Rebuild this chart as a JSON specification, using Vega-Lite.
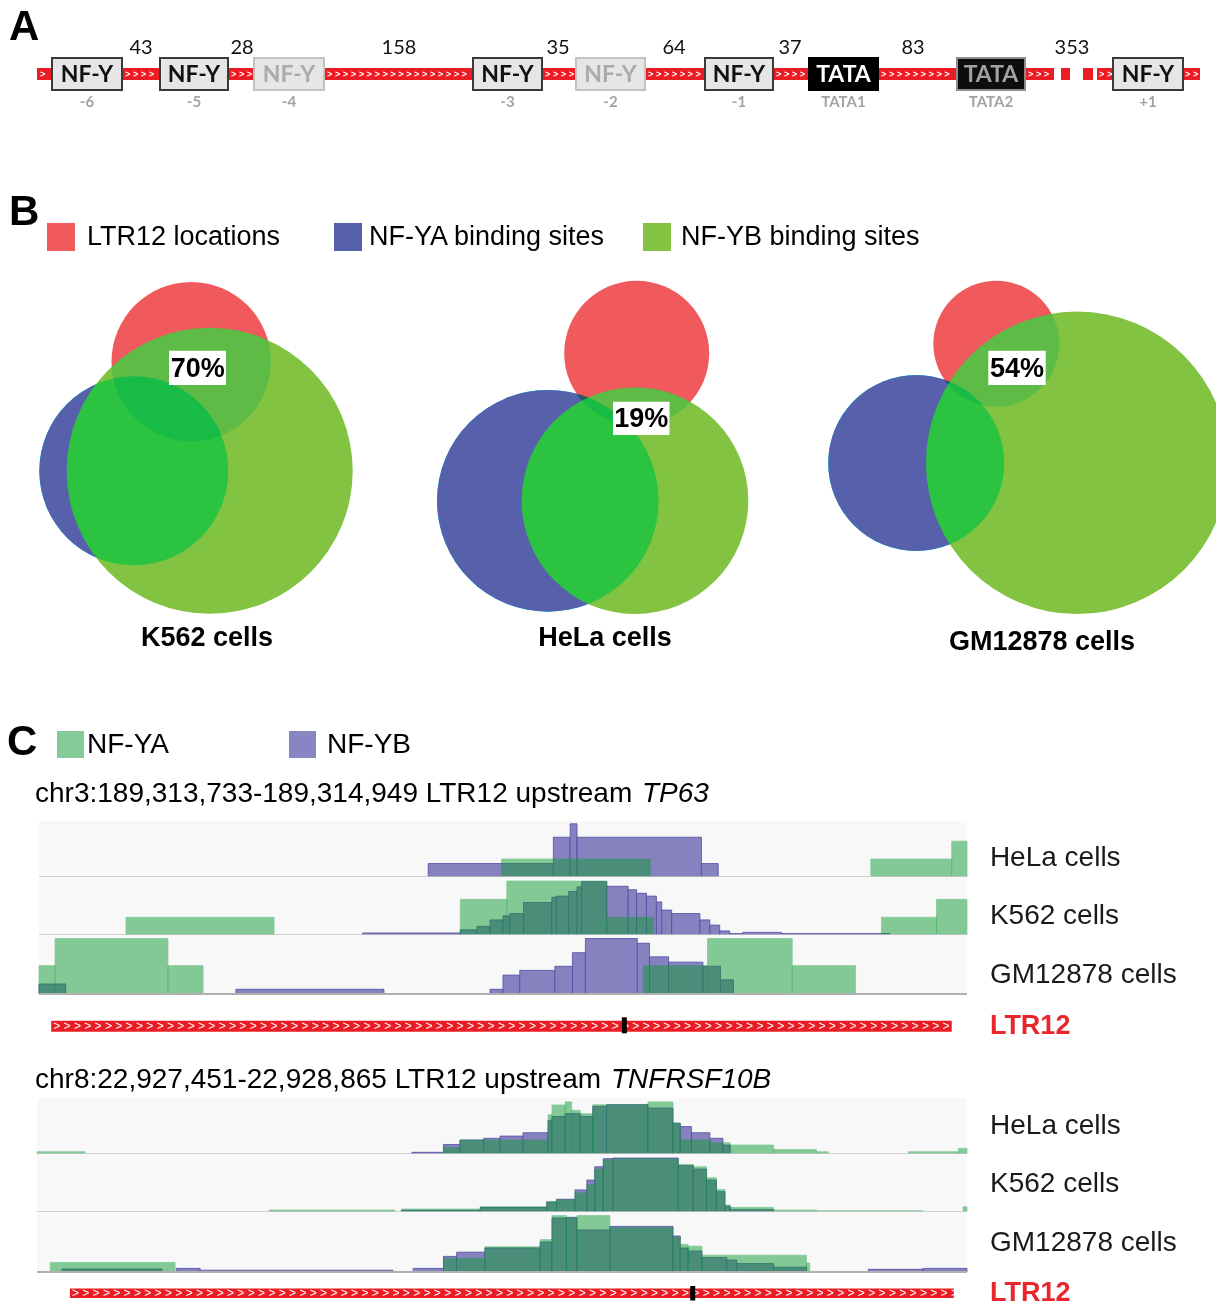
{
"$schema": "https://vega.github.io/schema/vega-lite/v6.json",
"padding": 0, "spacing": 0, "bounds": "flush", "background": "white",
"resolve": {"scale": {"color": "independent", "fill": "independent", "stroke": "independent", "opacity": "independent", "size": "independent"}},
"config": {"view": {"stroke": null}, "axis": {"disable": true}, "legend": {"disable": true}, "text": {"font": "Liberation Sans"}},
"datasets": {
"elements": [
{"name":"NF-Y","pos":"-6","kind":"strong","start":52,"end":122,"mid":87},
{"name":"NF-Y","pos":"-5","kind":"strong","start":160,"end":228,"mid":194},
{"name":"NF-Y","pos":"-4","kind":"weak","start":254,"end":324,"mid":289},
{"name":"NF-Y","pos":"-3","kind":"strong","start":473,"end":542,"mid":507.5},
{"name":"NF-Y","pos":"-2","kind":"weak","start":576,"end":645,"mid":610.5},
{"name":"NF-Y","pos":"-1","kind":"strong","start":705,"end":773,"mid":739},
{"name":"TATA","pos":"TATA1","kind":"tata","start":809,"end":878,"mid":843.5},
{"name":"TATA","pos":"TATA2","kind":"tata_weak","start":957,"end":1025,"mid":991},
{"name":"NF-Y","pos":"+1","kind":"strong","start":1113,"end":1183,"mid":1148}
],
"gaps": [
{"bp":"43","at":141},{"bp":"28","at":242},{"bp":"158","at":399},{"bp":"35","at":558},
{"bp":"64","at":674},{"bp":"37","at":790},{"bp":"83","at":913},{"bp":"353","at":1072}
],
"segments": [
{"from":37,"to":1054},{"from":1061,"to":1070},{"from":1083,"to":1093},{"from":1097,"to":1200}
],
"venn": [
{"cells":"K562","set":"NF-YA binding sites","cx":133.8,"cy":340.8,"r":94.5},
{"cells":"HeLa","set":"NF-YA binding sites","cx":547.8,"cy":370.8,"r":110.8},
{"cells":"GM12878","set":"NF-YA binding sites","cx":916.2,"cy":333,"r":88},
{"cells":"K562","set":"LTR12 locations","cx":191.2,"cy":231.7,"r":79.7},
{"cells":"HeLa","set":"LTR12 locations","cx":636.7,"cy":223.3,"r":72.5},
{"cells":"GM12878","set":"LTR12 locations","cx":996.3,"cy":213.8,"r":63},
{"cells":"K562","set":"NF-YB binding sites","cx":209.7,"cy":340.8,"r":143},
{"cells":"HeLa","set":"NF-YB binding sites","cx":635,"cy":370.7,"r":113.3},
{"cells":"GM12878","set":"NF-YB binding sites","cx":1077.2,"cy":332.8,"r":151.2}
],
"r1": [
{"cell":"HeLa","tf":"NF-YB","start":510,"end":674,"v":0.24},
{"cell":"HeLa","tf":"NF-YB","start":674,"end":696,"v":0.71},
{"cell":"HeLa","tf":"NF-YB","start":696,"end":705,"v":0.95},
{"cell":"HeLa","tf":"NF-YB","start":705,"end":868,"v":0.71},
{"cell":"HeLa","tf":"NF-YB","start":868,"end":890,"v":0.24},
{"cell":"HeLa","tf":"NF-YA","start":606,"end":801,"v":0.32},
{"cell":"HeLa","tf":"NF-YA","start":1090,"end":1196,"v":0.32},
{"cell":"HeLa","tf":"NF-YA","start":1196,"end":1216,"v":0.64},
{"cell":"K562","tf":"NF-YA","start":114,"end":308,"v":0.305},
{"cell":"K562","tf":"NF-YA","start":552,"end":613,"v":0.615},
{"cell":"K562","tf":"NF-YA","start":613,"end":744,"v":0.93},
{"cell":"K562","tf":"NF-YA","start":744,"end":805,"v":0.305},
{"cell":"K562","tf":"NF-YA","start":1104,"end":1176,"v":0.305},
{"cell":"K562","tf":"NF-YA","start":1176,"end":1216,"v":0.615},
{"cell":"K562","tf":"NF-YB","start":424,"end":552,"v":0.035},
{"cell":"K562","tf":"NF-YB","start":552,"end":574,"v":0.09},
{"cell":"K562","tf":"NF-YB","start":574,"end":591,"v":0.15},
{"cell":"K562","tf":"NF-YB","start":591,"end":608,"v":0.26},
{"cell":"K562","tf":"NF-YB","start":608,"end":617,"v":0.33},
{"cell":"K562","tf":"NF-YB","start":617,"end":635,"v":0.37},
{"cell":"K562","tf":"NF-YB","start":635,"end":672,"v":0.56},
{"cell":"K562","tf":"NF-YB","start":672,"end":678,"v":0.65},
{"cell":"K562","tf":"NF-YB","start":678,"end":694,"v":0.67},
{"cell":"K562","tf":"NF-YB","start":694,"end":705,"v":0.75},
{"cell":"K562","tf":"NF-YB","start":705,"end":711,"v":0.83},
{"cell":"K562","tf":"NF-YB","start":711,"end":744,"v":0.92},
{"cell":"K562","tf":"NF-YB","start":744,"end":772,"v":0.84},
{"cell":"K562","tf":"NF-YB","start":772,"end":783,"v":0.78},
{"cell":"K562","tf":"NF-YB","start":783,"end":796,"v":0.72},
{"cell":"K562","tf":"NF-YB","start":796,"end":809,"v":0.67},
{"cell":"K562","tf":"NF-YB","start":809,"end":816,"v":0.57},
{"cell":"K562","tf":"NF-YB","start":816,"end":829,"v":0.43},
{"cell":"K562","tf":"NF-YB","start":829,"end":866,"v":0.37},
{"cell":"K562","tf":"NF-YB","start":866,"end":879,"v":0.26},
{"cell":"K562","tf":"NF-YB","start":879,"end":892,"v":0.17},
{"cell":"K562","tf":"NF-YB","start":892,"end":905,"v":0.07},
{"cell":"K562","tf":"NF-YB","start":905,"end":922,"v":0.025},
{"cell":"K562","tf":"NF-YB","start":922,"end":973,"v":0.045},
{"cell":"K562","tf":"NF-YB","start":973,"end":1115,"v":0.025},
{"cell":"GM12878","tf":"NF-YA","start":0,"end":21,"v":0.48},
{"cell":"GM12878","tf":"NF-YA","start":21,"end":169,"v":0.94},
{"cell":"GM12878","tf":"NF-YA","start":169,"end":215,"v":0.48},
{"cell":"GM12878","tf":"NF-YA","start":792,"end":876,"v":0.48},
{"cell":"GM12878","tf":"NF-YA","start":876,"end":987,"v":0.94},
{"cell":"GM12878","tf":"NF-YA","start":987,"end":1070,"v":0.48},
{"cell":"GM12878","tf":"NF-YB","start":0,"end":35,"v":0.17},
{"cell":"GM12878","tf":"NF-YB","start":258,"end":452,"v":0.08},
{"cell":"GM12878","tf":"NF-YB","start":591,"end":608,"v":0.08},
{"cell":"GM12878","tf":"NF-YB","start":608,"end":630,"v":0.32},
{"cell":"GM12878","tf":"NF-YB","start":630,"end":676,"v":0.40},
{"cell":"GM12878","tf":"NF-YB","start":676,"end":699,"v":0.47},
{"cell":"GM12878","tf":"NF-YB","start":699,"end":716,"v":0.70},
{"cell":"GM12878","tf":"NF-YB","start":716,"end":784,"v":0.94},
{"cell":"GM12878","tf":"NF-YB","start":784,"end":800,"v":0.86},
{"cell":"GM12878","tf":"NF-YB","start":800,"end":825,"v":0.63},
{"cell":"GM12878","tf":"NF-YB","start":825,"end":870,"v":0.54},
{"cell":"GM12878","tf":"NF-YB","start":870,"end":893,"v":0.47},
{"cell":"GM12878","tf":"NF-YB","start":893,"end":910,"v":0.24}
],
"r2": [
{"cell":"HeLa","tf":"NF-YB","start":570,"end":618,"v":0.03},
{"cell":"HeLa","tf":"NF-YB","start":618,"end":643,"v":0.17},
{"cell":"HeLa","tf":"NF-YB","start":643,"end":679,"v":0.25},
{"cell":"HeLa","tf":"NF-YB","start":679,"end":704,"v":0.28},
{"cell":"HeLa","tf":"NF-YB","start":704,"end":739,"v":0.32},
{"cell":"HeLa","tf":"NF-YB","start":739,"end":777,"v":0.38},
{"cell":"HeLa","tf":"NF-YB","start":777,"end":783,"v":0.60},
{"cell":"HeLa","tf":"NF-YB","start":783,"end":803,"v":0.67},
{"cell":"HeLa","tf":"NF-YB","start":803,"end":826,"v":0.72},
{"cell":"HeLa","tf":"NF-YB","start":826,"end":845,"v":0.67},
{"cell":"HeLa","tf":"NF-YB","start":845,"end":866,"v":0.85},
{"cell":"HeLa","tf":"NF-YB","start":866,"end":929,"v":0.88},
{"cell":"HeLa","tf":"NF-YB","start":929,"end":967,"v":0.82},
{"cell":"HeLa","tf":"NF-YB","start":967,"end":978,"v":0.55},
{"cell":"HeLa","tf":"NF-YB","start":978,"end":995,"v":0.49},
{"cell":"HeLa","tf":"NF-YB","start":995,"end":1023,"v":0.38},
{"cell":"HeLa","tf":"NF-YB","start":1023,"end":1043,"v":0.28},
{"cell":"HeLa","tf":"NF-YB","start":1043,"end":1054,"v":0.16},
{"cell":"HeLa","tf":"NF-YA","start":0,"end":73,"v":0.04},
{"cell":"HeLa","tf":"NF-YA","start":618,"end":643,"v":0.12},
{"cell":"HeLa","tf":"NF-YA","start":643,"end":777,"v":0.25},
{"cell":"HeLa","tf":"NF-YA","start":777,"end":783,"v":0.70},
{"cell":"HeLa","tf":"NF-YA","start":783,"end":803,"v":0.875},
{"cell":"HeLa","tf":"NF-YA","start":803,"end":813,"v":0.93},
{"cell":"HeLa","tf":"NF-YA","start":813,"end":826,"v":0.78},
{"cell":"HeLa","tf":"NF-YA","start":826,"end":845,"v":0.72},
{"cell":"HeLa","tf":"NF-YA","start":845,"end":929,"v":0.88},
{"cell":"HeLa","tf":"NF-YA","start":929,"end":967,"v":0.93},
{"cell":"HeLa","tf":"NF-YA","start":967,"end":978,"v":0.55},
{"cell":"HeLa","tf":"NF-YA","start":978,"end":1023,"v":0.25},
{"cell":"HeLa","tf":"NF-YA","start":1023,"end":1054,"v":0.20},
{"cell":"HeLa","tf":"NF-YA","start":1054,"end":1120,"v":0.16},
{"cell":"HeLa","tf":"NF-YA","start":1120,"end":1185,"v":0.08},
{"cell":"HeLa","tf":"NF-YA","start":1185,"end":1203,"v":0.04},
{"cell":"HeLa","tf":"NF-YA","start":1325,"end":1401,"v":0.04},
{"cell":"HeLa","tf":"NF-YA","start":1401,"end":1414,"v":0.10},
{"cell":"K562","tf":"NF-YB","start":554,"end":674,"v":0.03},
{"cell":"K562","tf":"NF-YB","start":674,"end":775,"v":0.08},
{"cell":"K562","tf":"NF-YB","start":775,"end":790,"v":0.17},
{"cell":"K562","tf":"NF-YB","start":790,"end":818,"v":0.22},
{"cell":"K562","tf":"NF-YB","start":818,"end":836,"v":0.38},
{"cell":"K562","tf":"NF-YB","start":836,"end":848,"v":0.55},
{"cell":"K562","tf":"NF-YB","start":848,"end":861,"v":0.78},
{"cell":"K562","tf":"NF-YB","start":861,"end":876,"v":0.92},
{"cell":"K562","tf":"NF-YB","start":876,"end":975,"v":0.93},
{"cell":"K562","tf":"NF-YB","start":975,"end":998,"v":0.80},
{"cell":"K562","tf":"NF-YB","start":998,"end":1018,"v":0.74},
{"cell":"K562","tf":"NF-YB","start":1018,"end":1033,"v":0.55},
{"cell":"K562","tf":"NF-YB","start":1033,"end":1046,"v":0.35},
{"cell":"K562","tf":"NF-YB","start":1046,"end":1054,"v":0.10},
{"cell":"K562","tf":"NF-YB","start":1054,"end":1120,"v":0.04},
{"cell":"K562","tf":"NF-YA","start":353,"end":544,"v":0.035},
{"cell":"K562","tf":"NF-YA","start":554,"end":674,"v":0.05},
{"cell":"K562","tf":"NF-YA","start":674,"end":775,"v":0.09},
{"cell":"K562","tf":"NF-YA","start":775,"end":790,"v":0.18},
{"cell":"K562","tf":"NF-YA","start":790,"end":818,"v":0.21},
{"cell":"K562","tf":"NF-YA","start":818,"end":836,"v":0.33},
{"cell":"K562","tf":"NF-YA","start":836,"end":848,"v":0.47},
{"cell":"K562","tf":"NF-YA","start":848,"end":861,"v":0.74},
{"cell":"K562","tf":"NF-YA","start":861,"end":876,"v":0.90},
{"cell":"K562","tf":"NF-YA","start":876,"end":975,"v":0.92},
{"cell":"K562","tf":"NF-YA","start":975,"end":998,"v":0.82},
{"cell":"K562","tf":"NF-YA","start":998,"end":1018,"v":0.78},
{"cell":"K562","tf":"NF-YA","start":1018,"end":1033,"v":0.59},
{"cell":"K562","tf":"NF-YA","start":1033,"end":1046,"v":0.39},
{"cell":"K562","tf":"NF-YA","start":1046,"end":1054,"v":0.12},
{"cell":"K562","tf":"NF-YA","start":1054,"end":1120,"v":0.08},
{"cell":"K562","tf":"NF-YA","start":1120,"end":1185,"v":0.035},
{"cell":"K562","tf":"NF-YA","start":1185,"end":1347,"v":0.02},
{"cell":"K562","tf":"NF-YA","start":1408,"end":1414,"v":0.09},
{"cell":"GM12878","tf":"NF-YB","start":38,"end":190,"v":0.05},
{"cell":"GM12878","tf":"NF-YB","start":212,"end":248,"v":0.06},
{"cell":"GM12878","tf":"NF-YB","start":248,"end":541,"v":0.03},
{"cell":"GM12878","tf":"NF-YB","start":572,"end":618,"v":0.06},
{"cell":"GM12878","tf":"NF-YB","start":618,"end":638,"v":0.26},
{"cell":"GM12878","tf":"NF-YB","start":638,"end":681,"v":0.33},
{"cell":"GM12878","tf":"NF-YB","start":681,"end":765,"v":0.40},
{"cell":"GM12878","tf":"NF-YB","start":765,"end":783,"v":0.50},
{"cell":"GM12878","tf":"NF-YB","start":783,"end":805,"v":0.90},
{"cell":"GM12878","tf":"NF-YB","start":805,"end":821,"v":0.91},
{"cell":"GM12878","tf":"NF-YB","start":821,"end":871,"v":0.70},
{"cell":"GM12878","tf":"NF-YB","start":871,"end":967,"v":0.76},
{"cell":"GM12878","tf":"NF-YB","start":967,"end":978,"v":0.60},
{"cell":"GM12878","tf":"NF-YB","start":978,"end":990,"v":0.40},
{"cell":"GM12878","tf":"NF-YB","start":990,"end":1011,"v":0.35},
{"cell":"GM12878","tf":"NF-YB","start":1011,"end":1049,"v":0.24},
{"cell":"GM12878","tf":"NF-YB","start":1049,"end":1064,"v":0.20},
{"cell":"GM12878","tf":"NF-YB","start":1064,"end":1120,"v":0.14},
{"cell":"GM12878","tf":"NF-YB","start":1120,"end":1170,"v":0.08},
{"cell":"GM12878","tf":"NF-YB","start":1264,"end":1347,"v":0.045},
{"cell":"GM12878","tf":"NF-YB","start":1347,"end":1414,"v":0.06},
{"cell":"GM12878","tf":"NF-YA","start":20,"end":210,"v":0.16},
{"cell":"GM12878","tf":"NF-YA","start":618,"end":681,"v":0.23},
{"cell":"GM12878","tf":"NF-YA","start":681,"end":765,"v":0.42},
{"cell":"GM12878","tf":"NF-YA","start":765,"end":783,"v":0.54},
{"cell":"GM12878","tf":"NF-YA","start":783,"end":805,"v":0.94},
{"cell":"GM12878","tf":"NF-YA","start":805,"end":821,"v":0.91},
{"cell":"GM12878","tf":"NF-YA","start":821,"end":871,"v":0.94},
{"cell":"GM12878","tf":"NF-YA","start":871,"end":967,"v":0.74},
{"cell":"GM12878","tf":"NF-YA","start":967,"end":978,"v":0.58},
{"cell":"GM12878","tf":"NF-YA","start":978,"end":990,"v":0.46},
{"cell":"GM12878","tf":"NF-YA","start":990,"end":1011,"v":0.43},
{"cell":"GM12878","tf":"NF-YA","start":1011,"end":1170,"v":0.28},
{"cell":"GM12878","tf":"NF-YA","start":1170,"end":1175,"v":0.15}
]
},
"vconcat": [
{"width":1216,"height":130,"layer":[
 {"data":{"name":"segments"},"mark":{"type":"rule","stroke":"#EC1C24","strokeWidth":12,"strokeCap":"butt"},"encoding":{"x":{"field":"from","type":"quantitative","scale":{"domain":[0,1216],"nice":false}},"x2":{"field":"to"},"y":{"datum":74,"scale":{"domain":[130,0],"nice":false}}}},
 {"data":{"values":[{}]},"mark":{"type":"text","text":">","font":"Liberation Sans","fontWeight":"bold","fontSize":9.2,"fill":"white","align":"left","baseline":"middle"},"encoding":{"x":{"datum":40,"scale":{"domain":[0,1216],"nice":false}},"y":{"datum":74,"scale":{"domain":[130,0],"nice":false}}}},
 {"data":{"values":[{}]},"mark":{"type":"text","text":"> > > >","font":"Liberation Sans","fontWeight":"bold","fontSize":9.2,"fill":"white","align":"left","baseline":"middle"},"encoding":{"x":{"datum":125,"scale":{"domain":[0,1216],"nice":false}},"y":{"datum":74,"scale":{"domain":[130,0],"nice":false}}}},
 {"data":{"values":[{}]},"mark":{"type":"text","text":"> > >","font":"Liberation Sans","fontWeight":"bold","fontSize":9.2,"fill":"white","align":"left","baseline":"middle"},"encoding":{"x":{"datum":231,"scale":{"domain":[0,1216],"nice":false}},"y":{"datum":74,"scale":{"domain":[130,0],"nice":false}}}},
 {"data":{"values":[{}]},"mark":{"type":"text","text":"> > > > > > > > > > > > > > > > > >","font":"Liberation Sans","fontWeight":"bold","fontSize":9.2,"fill":"white","align":"left","baseline":"middle"},"encoding":{"x":{"datum":327,"scale":{"domain":[0,1216],"nice":false}},"y":{"datum":74,"scale":{"domain":[130,0],"nice":false}}}},
 {"data":{"values":[{}]},"mark":{"type":"text","text":"> > > >","font":"Liberation Sans","fontWeight":"bold","fontSize":9.2,"fill":"white","align":"left","baseline":"middle"},"encoding":{"x":{"datum":545,"scale":{"domain":[0,1216],"nice":false}},"y":{"datum":74,"scale":{"domain":[130,0],"nice":false}}}},
 {"data":{"values":[{}]},"mark":{"type":"text","text":"> > > > > > >","font":"Liberation Sans","fontWeight":"bold","fontSize":9.2,"fill":"white","align":"left","baseline":"middle"},"encoding":{"x":{"datum":648,"scale":{"domain":[0,1216],"nice":false}},"y":{"datum":74,"scale":{"domain":[130,0],"nice":false}}}},
 {"data":{"values":[{}]},"mark":{"type":"text","text":"> > > >","font":"Liberation Sans","fontWeight":"bold","fontSize":9.2,"fill":"white","align":"left","baseline":"middle"},"encoding":{"x":{"datum":776,"scale":{"domain":[0,1216],"nice":false}},"y":{"datum":74,"scale":{"domain":[130,0],"nice":false}}}},
 {"data":{"values":[{}]},"mark":{"type":"text","text":"> > > > > > > > >","font":"Liberation Sans","fontWeight":"bold","fontSize":9.2,"fill":"white","align":"left","baseline":"middle"},"encoding":{"x":{"datum":881,"scale":{"domain":[0,1216],"nice":false}},"y":{"datum":74,"scale":{"domain":[130,0],"nice":false}}}},
 {"data":{"values":[{}]},"mark":{"type":"text","text":"> > >","font":"Liberation Sans","fontWeight":"bold","fontSize":9.2,"fill":"white","align":"left","baseline":"middle"},"encoding":{"x":{"datum":1028,"scale":{"domain":[0,1216],"nice":false}},"y":{"datum":74,"scale":{"domain":[130,0],"nice":false}}}},
 {"data":{"values":[{}]},"mark":{"type":"text","text":"> >","font":"Liberation Sans","fontWeight":"bold","fontSize":9.2,"fill":"white","align":"left","baseline":"middle"},"encoding":{"x":{"datum":1099,"scale":{"domain":[0,1216],"nice":false}},"y":{"datum":74,"scale":{"domain":[130,0],"nice":false}}}},
 {"data":{"values":[{}]},"mark":{"type":"text","text":"> >","font":"Liberation Sans","fontWeight":"bold","fontSize":9.2,"fill":"white","align":"left","baseline":"middle"},"encoding":{"x":{"datum":1185,"scale":{"domain":[0,1216],"nice":false}},"y":{"datum":74,"scale":{"domain":[130,0],"nice":false}}}},
 {"data":{"name":"elements"},"mark":{"type":"rect","strokeWidth":2},"encoding":{"x":{"field":"start","type":"quantitative","scale":{"domain":[0,1216],"nice":false}},"x2":{"field":"end"},"y":{"datum":58,"scale":{"domain":[130,0],"nice":false}},"y2":{"datum":90},"fill":{"field":"kind","type":"nominal","scale":{"domain":["strong","weak","tata","tata_weak"],"range":["#E6E6E6","#E6E6E6","#000000","#0D0D0D"]}},"stroke":{"field":"kind","type":"nominal","scale":{"domain":["strong","weak","tata","tata_weak"],"range":["#3A3A3A","#C2C2C2","#000000","#8C8C8C"]}}}},
 {"data":{"name":"elements"},"mark":{"type":"text","font":"Lato","fontWeight":"bold","fontSize":23,"align":"center","baseline":"middle"},"encoding":{"x":{"field":"mid","type":"quantitative","scale":{"domain":[0,1216],"nice":false}},"y":{"datum":74.5,"scale":{"domain":[130,0],"nice":false}},"text":{"field":"name"},"color":{"field":"kind","type":"nominal","scale":{"domain":["strong","weak","tata","tata_weak"],"range":["#111111","#ABABAB","#FFFFFF","#A0A0A0"]}}}},
 {"data":{"name":"elements"},"mark":{"type":"text","font":"Lato","fontWeight":"bold","fontSize":15,"align":"center","baseline":"middle","fill":"#A3A3A3"},"encoding":{"x":{"field":"mid","type":"quantitative","scale":{"domain":[0,1216],"nice":false}},"y":{"datum":102,"scale":{"domain":[130,0],"nice":false}},"text":{"field":"pos"}}},
 {"data":{"name":"gaps"},"mark":{"type":"text","font":"Lato","fontSize":20,"align":"center","baseline":"middle","fill":"#111111"},"encoding":{"x":{"field":"at","type":"quantitative","scale":{"domain":[0,1216],"nice":false}},"y":{"datum":48,"scale":{"domain":[130,0],"nice":false}},"text":{"field":"bp"}}},
 {"data":{"values":[{}]},"mark":{"type":"text","text":"A","font":"Liberation Sans","fontWeight":"bold","fontSize":42,"align":"left","baseline":"middle","fill":"black"},"encoding":{"x":{"datum":9,"scale":{"domain":[0,1216],"nice":false}},"y":{"datum":27,"scale":{"domain":[130,0],"nice":false}}}}
]},
{"width":1216,"height":560,"layer":[
 {"data":{"name":"venn"},"transform":[{"filter":"datum.set !== 'NF-YB binding sites'"}],"mark":{"type":"point","shape":"circle","filled":true,"opacity":1,"strokeWidth":0},"encoding":{"x":{"field":"cx","type":"quantitative","scale":{"domain":[0,1216],"nice":false}},"y":{"field":"cy","type":"quantitative","scale":{"domain":[560,0],"nice":false}},"size":{"field":"r","type":"quantitative","scale":{"type":"pow","exponent":2,"domain":[0,200],"range":[0,160000]}},"color":{"field":"set","type":"nominal","scale":{"domain":["LTR12 locations","NF-YA binding sites","NF-YB binding sites"],"range":["#F56558","#5761AB","#82C341"]}}}},
 {"data":{"name":"venn"},"transform":[{"filter":"datum.set === 'NF-YB binding sites'"}],"mark":{"type":"point","shape":"circle","filled":true,"opacity":1,"strokeWidth":0,"clip":true},"encoding":{"x":{"field":"cx","type":"quantitative","scale":{"domain":[0,1216],"nice":false}},"y":{"field":"cy","type":"quantitative","scale":{"domain":[560,0],"nice":false}},"size":{"field":"r","type":"quantitative","scale":{"type":"pow","exponent":2,"domain":[0,200],"range":[0,160000]}},"color":{"field":"set","type":"nominal","scale":{"domain":["LTR12 locations","NF-YA binding sites","NF-YB binding sites"],"range":["#F56558","#5761AB","#82C341"]}}}},
 {"data":{"name":"venn"},"transform":[{"filter":"datum.set === 'NF-YA binding sites'"}],"mark":{"type":"point","shape":"circle","filled":true,"opacity":1,"strokeWidth":0,"fill":"#AE0000","blend":"difference"},"encoding":{"x":{"field":"cx","type":"quantitative","scale":{"domain":[0,1216],"nice":false}},"y":{"field":"cy","type":"quantitative","scale":{"domain":[560,0],"nice":false}},"size":{"field":"r","type":"quantitative","scale":{"type":"pow","exponent":2,"domain":[0,200],"range":[0,160000]}}}},
 {"data":{"name":"venn"},"transform":[{"filter":"datum.set === 'LTR12 locations'"}],"mark":{"type":"point","shape":"circle","filled":true,"opacity":1,"strokeWidth":0,"fill":"#38698A","blend":"soft-light"},"encoding":{"x":{"field":"cx","type":"quantitative","scale":{"domain":[0,1216],"nice":false}},"y":{"field":"cy","type":"quantitative","scale":{"domain":[560,0],"nice":false}},"size":{"field":"r","type":"quantitative","scale":{"type":"pow","exponent":2,"domain":[0,200],"range":[0,160000]}}}},
 {"data":{"values":[{}]},"mark":{"type":"rect","fill":"white"},"encoding":{"x":{"datum":169,"scale":{"domain":[0,1216],"nice":false}},"x2":{"datum":226},"y":{"datum":220.7,"scale":{"domain":[560,0],"nice":false}},"y2":{"datum":255}}},
 {"data":{"values":[{}]},"mark":{"type":"rect","fill":"white"},"encoding":{"x":{"datum":613,"scale":{"domain":[0,1216],"nice":false}},"x2":{"datum":669.5},"y":{"datum":271.7,"scale":{"domain":[560,0],"nice":false}},"y2":{"datum":305}}},
 {"data":{"values":[{}]},"mark":{"type":"rect","fill":"white"},"encoding":{"x":{"datum":988.3,"scale":{"domain":[0,1216],"nice":false}},"x2":{"datum":1045.7},"y":{"datum":220.7,"scale":{"domain":[560,0],"nice":false}},"y2":{"datum":255}}},
 {"data":{"values":[{}]},"mark":{"type":"text","text":"70%","fontWeight":"bold","fontSize":27,"align":"center","baseline":"middle","fill":"black"},"encoding":{"x":{"datum":197.7,"scale":{"domain":[0,1216],"nice":false}},"y":{"datum":238.5,"scale":{"domain":[560,0],"nice":false}}}},
 {"data":{"values":[{}]},"mark":{"type":"text","text":"19%","fontWeight":"bold","fontSize":27,"align":"center","baseline":"middle","fill":"black"},"encoding":{"x":{"datum":641.3,"scale":{"domain":[0,1216],"nice":false}},"y":{"datum":289,"scale":{"domain":[560,0],"nice":false}}}},
 {"data":{"values":[{}]},"mark":{"type":"text","text":"54%","fontWeight":"bold","fontSize":27,"align":"center","baseline":"middle","fill":"black"},"encoding":{"x":{"datum":1017,"scale":{"domain":[0,1216],"nice":false}},"y":{"datum":238.5,"scale":{"domain":[560,0],"nice":false}}}},
 {"data":{"values":[{}]},"mark":{"type":"text","text":"K562 cells","fontWeight":"bold","fontSize":27,"align":"center","baseline":"middle","fill":"black"},"encoding":{"x":{"datum":207,"scale":{"domain":[0,1216],"nice":false}},"y":{"datum":508,"scale":{"domain":[560,0],"nice":false}}}},
 {"data":{"values":[{}]},"mark":{"type":"text","text":"HeLa cells","fontWeight":"bold","fontSize":27,"align":"center","baseline":"middle","fill":"black"},"encoding":{"x":{"datum":605,"scale":{"domain":[0,1216],"nice":false}},"y":{"datum":508,"scale":{"domain":[560,0],"nice":false}}}},
 {"data":{"values":[{}]},"mark":{"type":"text","text":"GM12878 cells","fontWeight":"bold","fontSize":27,"align":"center","baseline":"middle","fill":"black"},"encoding":{"x":{"datum":1042,"scale":{"domain":[0,1216],"nice":false}},"y":{"datum":512,"scale":{"domain":[560,0],"nice":false}}}},
 {"data":{"values":[{}]},"mark":{"type":"point","shape":"square","filled":true,"opacity":1,"strokeWidth":0,"size":784,"fill":"#F05A5C"},"encoding":{"x":{"datum":61,"scale":{"domain":[0,1216],"nice":false}},"y":{"datum":107,"scale":{"domain":[560,0],"nice":false}}}},
 {"data":{"values":[{}]},"mark":{"type":"point","shape":"square","filled":true,"opacity":1,"strokeWidth":0,"size":784,"fill":"#5761AB"},"encoding":{"x":{"datum":348,"scale":{"domain":[0,1216],"nice":false}},"y":{"datum":107,"scale":{"domain":[560,0],"nice":false}}}},
 {"data":{"values":[{}]},"mark":{"type":"point","shape":"square","filled":true,"opacity":1,"strokeWidth":0,"size":784,"fill":"#82C341"},"encoding":{"x":{"datum":657,"scale":{"domain":[0,1216],"nice":false}},"y":{"datum":107,"scale":{"domain":[560,0],"nice":false}}}},
 {"data":{"values":[{}]},"mark":{"type":"text","text":"LTR12 locations","fontSize":27,"align":"left","baseline":"middle","fill":"black"},"encoding":{"x":{"datum":87,"scale":{"domain":[0,1216],"nice":false}},"y":{"datum":107,"scale":{"domain":[560,0],"nice":false}}}},
 {"data":{"values":[{}]},"mark":{"type":"text","text":"NF-YA binding sites","fontSize":27,"align":"left","baseline":"middle","fill":"black"},"encoding":{"x":{"datum":369,"scale":{"domain":[0,1216],"nice":false}},"y":{"datum":107,"scale":{"domain":[560,0],"nice":false}}}},
 {"data":{"values":[{}]},"mark":{"type":"text","text":"NF-YB binding sites","fontSize":27,"align":"left","baseline":"middle","fill":"black"},"encoding":{"x":{"datum":681,"scale":{"domain":[0,1216],"nice":false}},"y":{"datum":107,"scale":{"domain":[560,0],"nice":false}}}},
 {"data":{"values":[{}]},"mark":{"type":"text","text":"B","fontWeight":"bold","fontSize":42,"align":"left","baseline":"middle","fill":"black"},"encoding":{"x":{"datum":9,"scale":{"domain":[0,1216],"nice":false}},"y":{"datum":82,"scale":{"domain":[560,0],"nice":false}}}}
]},
{"width":1216,"height":131,"layer":[
 {"data":{"values":[{}]},"mark":{"type":"text","text":"C","fontWeight":"bold","fontSize":42,"align":"left","baseline":"middle","fill":"black"},"encoding":{"x":{"datum":7,"scale":{"domain":[0,1216],"nice":false}},"y":{"datum":52,"scale":{"domain":[131,0],"nice":false}}}},
 {"data":{"values":[{}]},"mark":{"type":"point","shape":"square","filled":true,"opacity":1,"strokeWidth":0,"size":729,"fill":"#85CB9A"},"encoding":{"x":{"datum":70.5,"scale":{"domain":[0,1216],"nice":false}},"y":{"datum":54.5,"scale":{"domain":[131,0],"nice":false}}}},
 {"data":{"values":[{}]},"mark":{"type":"point","shape":"square","filled":true,"opacity":1,"strokeWidth":0,"size":729,"fill":"#8785C2"},"encoding":{"x":{"datum":302.5,"scale":{"domain":[0,1216],"nice":false}},"y":{"datum":54.5,"scale":{"domain":[131,0],"nice":false}}}},
 {"data":{"values":[{}]},"mark":{"type":"text","text":"NF-YA","fontSize":28,"align":"left","baseline":"middle","fill":"black"},"encoding":{"x":{"datum":87,"scale":{"domain":[0,1216],"nice":false}},"y":{"datum":55,"scale":{"domain":[131,0],"nice":false}}}},
 {"data":{"values":[{}]},"mark":{"type":"text","text":"NF-YB","fontSize":28,"align":"left","baseline":"middle","fill":"black"},"encoding":{"x":{"datum":327,"scale":{"domain":[0,1216],"nice":false}},"y":{"datum":55,"scale":{"domain":[131,0],"nice":false}}}},
 {"data":{"values":[{}]},"mark":{"type":"text","text":"chr3:189,313,733-189,314,949 LTR12 upstream","fontSize":28,"align":"left","baseline":"middle","fill":"black"},"encoding":{"x":{"datum":35,"scale":{"domain":[0,1216],"nice":false}},"y":{"datum":104,"scale":{"domain":[131,0],"nice":false}}}},
 {"data":{"values":[{}]},"mark":{"type":"text","text":"TP63","fontSize":28,"fontStyle":"italic","align":"left","baseline":"middle","fill":"black"},"encoding":{"x":{"datum":642,"scale":{"domain":[0,1216],"nice":false}},"y":{"datum":104,"scale":{"domain":[131,0],"nice":false}}}}
]},
{"width":1216,"height":56,"layer":[
 {"data":{"values":[{}]},"mark":{"type":"rect","fill":"#F8F8F8"},"encoding":{"x":{"datum":0,"scale":{"domain":[-51.1,1542.28],"nice":false}},"x2":{"datum":1216},"y":{"datum":0,"scale":{"domain":[0,1],"nice":false}},"y2":{"datum":1}}},
 {"data":{"name":"r1"},"transform":[{"filter":"datum.cell==='HeLa' && datum.tf==='NF-YB'"}],"mark":{"type":"rect","fill":"#8682C0","stroke":"#4E4AA3","strokeWidth":0.8},"encoding":{"x":{"field":"start","type":"quantitative","scale":{"domain":[-51.1,1542.28],"nice":false}},"x2":{"field":"end"},"y":{"field":"v","type":"quantitative","scale":{"domain":[0,1],"nice":false}},"y2":{"datum":0}}},
 {"data":{"name":"r1"},"transform":[{"filter":"datum.cell==='HeLa' && datum.tf==='NF-YA'"}],"mark":{"type":"rect","fill":"#0F9B37","stroke":"#0F9B37","strokeWidth":0.8,"opacity":0.5},"encoding":{"x":{"field":"start","type":"quantitative","scale":{"domain":[-51.1,1542.28],"nice":false}},"x2":{"field":"end"},"y":{"field":"v","type":"quantitative","scale":{"domain":[0,1],"nice":false}},"y2":{"datum":0}}},
 {"data":{"values":[{}]},"mark":{"type":"rule","stroke":"#C4C4C4","strokeWidth":1.5},"encoding":{"x":{"datum":0,"scale":{"domain":[-51.1,1542.28],"nice":false}},"x2":{"datum":1216},"y":{"datum":0,"scale":{"domain":[0,1],"nice":false}}}},
 {"data":{"values":[{}]},"mark":{"type":"text","text":"HeLa cells","fontSize":28,"align":"left","baseline":"middle","fill":"#1A1A1A"},"encoding":{"x":{"datum":1246,"scale":{"domain":[-51.1,1542.28],"nice":false}},"y":{"datum":0.34,"scale":{"domain":[0,1],"nice":false}}}}
]},
{"width":1216,"height":58,"layer":[
 {"data":{"values":[{}]},"mark":{"type":"rect","fill":"#F8F8F8"},"encoding":{"x":{"datum":0,"scale":{"domain":[-51.1,1542.28],"nice":false}},"x2":{"datum":1216},"y":{"datum":0,"scale":{"domain":[0,1],"nice":false}},"y2":{"datum":1}}},
 {"data":{"name":"r1"},"transform":[{"filter":"datum.cell==='K562' && datum.tf==='NF-YB'"}],"mark":{"type":"rect","fill":"#8682C0","stroke":"#4E4AA3","strokeWidth":0.8},"encoding":{"x":{"field":"start","type":"quantitative","scale":{"domain":[-51.1,1542.28],"nice":false}},"x2":{"field":"end"},"y":{"field":"v","type":"quantitative","scale":{"domain":[0,1],"nice":false}},"y2":{"datum":0}}},
 {"data":{"name":"r1"},"transform":[{"filter":"datum.cell==='K562' && datum.tf==='NF-YA'"}],"mark":{"type":"rect","fill":"#0F9B37","stroke":"#0F9B37","strokeWidth":0.8,"opacity":0.5},"encoding":{"x":{"field":"start","type":"quantitative","scale":{"domain":[-51.1,1542.28],"nice":false}},"x2":{"field":"end"},"y":{"field":"v","type":"quantitative","scale":{"domain":[0,1],"nice":false}},"y2":{"datum":0}}},
 {"data":{"values":[{}]},"mark":{"type":"rule","stroke":"#C4C4C4","strokeWidth":1.5},"encoding":{"x":{"datum":0,"scale":{"domain":[-51.1,1542.28],"nice":false}},"x2":{"datum":1216},"y":{"datum":0,"scale":{"domain":[0,1],"nice":false}}}},
 {"data":{"values":[{}]},"mark":{"type":"text","text":"K562 cells","fontSize":28,"align":"left","baseline":"middle","fill":"#1A1A1A"},"encoding":{"x":{"datum":1246,"scale":{"domain":[-51.1,1542.28],"nice":false}},"y":{"datum":0.33,"scale":{"domain":[0,1],"nice":false}}}}
]},
{"width":1216,"height":59,"layer":[
 {"data":{"values":[{}]},"mark":{"type":"rect","fill":"#F8F8F8"},"encoding":{"x":{"datum":0,"scale":{"domain":[-51.1,1542.28],"nice":false}},"x2":{"datum":1216},"y":{"datum":0,"scale":{"domain":[0,1],"nice":false}},"y2":{"datum":1}}},
 {"data":{"name":"r1"},"transform":[{"filter":"datum.cell==='GM12878' && datum.tf==='NF-YB'"}],"mark":{"type":"rect","fill":"#8682C0","stroke":"#4E4AA3","strokeWidth":0.8},"encoding":{"x":{"field":"start","type":"quantitative","scale":{"domain":[-51.1,1542.28],"nice":false}},"x2":{"field":"end"},"y":{"field":"v","type":"quantitative","scale":{"domain":[0,1],"nice":false}},"y2":{"datum":0}}},
 {"data":{"name":"r1"},"transform":[{"filter":"datum.cell==='GM12878' && datum.tf==='NF-YA'"}],"mark":{"type":"rect","fill":"#0F9B37","stroke":"#0F9B37","strokeWidth":0.8,"opacity":0.5},"encoding":{"x":{"field":"start","type":"quantitative","scale":{"domain":[-51.1,1542.28],"nice":false}},"x2":{"field":"end"},"y":{"field":"v","type":"quantitative","scale":{"domain":[0,1],"nice":false}},"y2":{"datum":0}}},
 {"data":{"values":[{}]},"mark":{"type":"rule","stroke":"#B0B0B0","strokeWidth":2},"encoding":{"x":{"datum":0,"scale":{"domain":[-51.1,1542.28],"nice":false}},"x2":{"datum":1216},"y":{"datum":0,"scale":{"domain":[0,1],"nice":false}}}},
 {"data":{"values":[{}]},"mark":{"type":"text","text":"GM12878 cells","fontSize":28,"align":"left","baseline":"middle","fill":"#1A1A1A"},"encoding":{"x":{"datum":1246,"scale":{"domain":[-51.1,1542.28],"nice":false}},"y":{"datum":0.32,"scale":{"domain":[0,1],"nice":false}}}}
]},
{"width":1216,"height":66,"layer":[
 {"data":{"values":[{"element":"LTR12","start":16,"end":1196}]},"mark":{"type":"rule","stroke":"#EC1C24","strokeWidth":11,"strokeCap":"butt"},"encoding":{"x":{"field":"start","type":"quantitative","scale":{"domain":[-51.1,1542.28],"nice":false}},"x2":{"field":"end"},"y":{"datum":32.2,"scale":{"domain":[66,0],"nice":false}}}},
 {"data":{"values":[{"element":"LTR12","start":16,"end":1196}]},"mark":{"type":"text","text":"> > > > > > > > > > > > > > > > > > > > > > > > > > > > > > > > > > > > > > > > > > > > > > > > > > > > > > > > > > > > > > > > > > > > > > > > > > > > > > > > > > > > > > > > > > > > ","font":"Liberation Sans","fontSize":12,"fill":"white","align":"left","baseline":"middle","dx":2},"encoding":{"x":{"field":"start","type":"quantitative","scale":{"domain":[-51.1,1542.28],"nice":false}},"y":{"datum":32.2,"scale":{"domain":[66,0],"nice":false}}}},
 {"data":{"values":[{"site":"TSS","at":767}]},"mark":{"type":"rule","stroke":"black","strokeWidth":5},"encoding":{"x":{"field":"at","type":"quantitative","scale":{"domain":[-51.1,1542.28],"nice":false}},"y":{"datum":23.3,"scale":{"domain":[66,0],"nice":false}},"y2":{"datum":39.3}}},
 {"data":{"values":[{}]},"mark":{"type":"text","text":"LTR12","fontWeight":"bold","fontSize":27,"align":"left","baseline":"middle","fill":"#E8262B"},"encoding":{"x":{"datum":1246,"scale":{"domain":[-51.1,1542.28],"nice":false}},"y":{"datum":32,"scale":{"domain":[66,0],"nice":false}}}}
]},
{"width":1216,"height":38,"layer":[
 {"data":{"values":[{}]},"mark":{"type":"text","text":"chr8:22,927,451-22,928,865 LTR12 upstream","fontSize":28,"align":"left","baseline":"middle","fill":"black"},"encoding":{"x":{"datum":35,"scale":{"domain":[0,1216],"nice":false}},"y":{"datum":20,"scale":{"domain":[38,0],"nice":false}}}},
 {"data":{"values":[{}]},"mark":{"type":"text","text":"TNFRSF10B","fontSize":28,"fontStyle":"italic","align":"left","baseline":"middle","fill":"black"},"encoding":{"x":{"datum":611,"scale":{"domain":[0,1216],"nice":false}},"y":{"datum":20,"scale":{"domain":[38,0],"nice":false}}}}
]},
{"width":1216,"height":56,"layer":[
 {"data":{"values":[{}]},"mark":{"type":"rect","fill":"#F8F8F8"},"encoding":{"x":{"datum":0,"scale":{"domain":[-56.26,1792.59],"nice":false}},"x2":{"datum":1414},"y":{"datum":0,"scale":{"domain":[0,1],"nice":false}},"y2":{"datum":1}}},
 {"data":{"name":"r2"},"transform":[{"filter":"datum.cell==='HeLa' && datum.tf==='NF-YB'"}],"mark":{"type":"rect","fill":"#8682C0","stroke":"#4E4AA3","strokeWidth":0.8},"encoding":{"x":{"field":"start","type":"quantitative","scale":{"domain":[-56.26,1792.59],"nice":false}},"x2":{"field":"end"},"y":{"field":"v","type":"quantitative","scale":{"domain":[0,1],"nice":false}},"y2":{"datum":0}}},
 {"data":{"name":"r2"},"transform":[{"filter":"datum.cell==='HeLa' && datum.tf==='NF-YA'"}],"mark":{"type":"rect","fill":"#0F9B37","stroke":"#0F9B37","strokeWidth":0.8,"opacity":0.5},"encoding":{"x":{"field":"start","type":"quantitative","scale":{"domain":[-56.26,1792.59],"nice":false}},"x2":{"field":"end"},"y":{"field":"v","type":"quantitative","scale":{"domain":[0,1],"nice":false}},"y2":{"datum":0}}},
 {"data":{"values":[{}]},"mark":{"type":"rule","stroke":"#C4C4C4","strokeWidth":1.5},"encoding":{"x":{"datum":0,"scale":{"domain":[-56.26,1792.59],"nice":false}},"x2":{"datum":1414},"y":{"datum":0,"scale":{"domain":[0,1],"nice":false}}}},
 {"data":{"values":[{}]},"mark":{"type":"text","text":"HeLa cells","fontSize":28,"align":"left","baseline":"middle","fill":"#1A1A1A"},"encoding":{"x":{"datum":1449,"scale":{"domain":[-56.26,1792.59],"nice":false}},"y":{"datum":0.5,"scale":{"domain":[0,1],"nice":false}}}}
]},
{"width":1216,"height":58,"layer":[
 {"data":{"values":[{}]},"mark":{"type":"rect","fill":"#F8F8F8"},"encoding":{"x":{"datum":0,"scale":{"domain":[-56.26,1792.59],"nice":false}},"x2":{"datum":1414},"y":{"datum":0,"scale":{"domain":[0,1],"nice":false}},"y2":{"datum":1}}},
 {"data":{"name":"r2"},"transform":[{"filter":"datum.cell==='K562' && datum.tf==='NF-YB'"}],"mark":{"type":"rect","fill":"#8682C0","stroke":"#4E4AA3","strokeWidth":0.8},"encoding":{"x":{"field":"start","type":"quantitative","scale":{"domain":[-56.26,1792.59],"nice":false}},"x2":{"field":"end"},"y":{"field":"v","type":"quantitative","scale":{"domain":[0,1],"nice":false}},"y2":{"datum":0}}},
 {"data":{"name":"r2"},"transform":[{"filter":"datum.cell==='K562' && datum.tf==='NF-YA'"}],"mark":{"type":"rect","fill":"#0F9B37","stroke":"#0F9B37","strokeWidth":0.8,"opacity":0.5},"encoding":{"x":{"field":"start","type":"quantitative","scale":{"domain":[-56.26,1792.59],"nice":false}},"x2":{"field":"end"},"y":{"field":"v","type":"quantitative","scale":{"domain":[0,1],"nice":false}},"y2":{"datum":0}}},
 {"data":{"values":[{}]},"mark":{"type":"rule","stroke":"#C4C4C4","strokeWidth":1.5},"encoding":{"x":{"datum":0,"scale":{"domain":[-56.26,1792.59],"nice":false}},"x2":{"datum":1414},"y":{"datum":0,"scale":{"domain":[0,1],"nice":false}}}},
 {"data":{"values":[{}]},"mark":{"type":"text","text":"K562 cells","fontSize":28,"align":"left","baseline":"middle","fill":"#1A1A1A"},"encoding":{"x":{"datum":1449,"scale":{"domain":[-56.26,1792.59],"nice":false}},"y":{"datum":0.48,"scale":{"domain":[0,1],"nice":false}}}}
]},
{"width":1216,"height":60,"layer":[
 {"data":{"values":[{}]},"mark":{"type":"rect","fill":"#F8F8F8"},"encoding":{"x":{"datum":0,"scale":{"domain":[-56.26,1792.59],"nice":false}},"x2":{"datum":1414},"y":{"datum":0,"scale":{"domain":[0,1],"nice":false}},"y2":{"datum":1}}},
 {"data":{"name":"r2"},"transform":[{"filter":"datum.cell==='GM12878' && datum.tf==='NF-YB'"}],"mark":{"type":"rect","fill":"#8682C0","stroke":"#4E4AA3","strokeWidth":0.8},"encoding":{"x":{"field":"start","type":"quantitative","scale":{"domain":[-56.26,1792.59],"nice":false}},"x2":{"field":"end"},"y":{"field":"v","type":"quantitative","scale":{"domain":[0,1],"nice":false}},"y2":{"datum":0}}},
 {"data":{"name":"r2"},"transform":[{"filter":"datum.cell==='GM12878' && datum.tf==='NF-YA'"}],"mark":{"type":"rect","fill":"#0F9B37","stroke":"#0F9B37","strokeWidth":0.8,"opacity":0.5},"encoding":{"x":{"field":"start","type":"quantitative","scale":{"domain":[-56.26,1792.59],"nice":false}},"x2":{"field":"end"},"y":{"field":"v","type":"quantitative","scale":{"domain":[0,1],"nice":false}},"y2":{"datum":0}}},
 {"data":{"values":[{}]},"mark":{"type":"rule","stroke":"#B0B0B0","strokeWidth":2},"encoding":{"x":{"datum":0,"scale":{"domain":[-56.26,1792.59],"nice":false}},"x2":{"datum":1414},"y":{"datum":0,"scale":{"domain":[0,1],"nice":false}}}},
 {"data":{"values":[{}]},"mark":{"type":"text","text":"GM12878 cells","fontSize":28,"align":"left","baseline":"middle","fill":"#1A1A1A"},"encoding":{"x":{"datum":1449,"scale":{"domain":[-56.26,1792.59],"nice":false}},"y":{"datum":0.48,"scale":{"domain":[0,1],"nice":false}}}}
]},
{"width":1216,"height":35,"layer":[
 {"data":{"values":[{"element":"LTR12","start":50,"end":1394}]},"mark":{"type":"rule","stroke":"#EC1C24","strokeWidth":9.5,"strokeCap":"butt"},"encoding":{"x":{"field":"start","type":"quantitative","scale":{"domain":[-56.26,1792.59],"nice":false}},"x2":{"field":"end"},"y":{"datum":21.2,"scale":{"domain":[35,0],"nice":false}}}},
 {"data":{"values":[{"element":"LTR12","start":50,"end":1394}]},"mark":{"type":"text","text":"> > > > > > > > > > > > > > > > > > > > > > > > > > > > > > > > > > > > > > > > > > > > > > > > > > > > > > > > > > > > > > > > > > > > > > > > > > > > > > > > > > > > > > ","font":"Liberation Sans","fontSize":12,"fill":"white","align":"left","baseline":"middle","dx":2},"encoding":{"x":{"field":"start","type":"quantitative","scale":{"domain":[-56.26,1792.59],"nice":false}},"y":{"datum":21.2,"scale":{"domain":[35,0],"nice":false}}}},
 {"data":{"values":[{"site":"TSS","at":997}]},"mark":{"type":"rule","stroke":"black","strokeWidth":5},"encoding":{"x":{"field":"at","type":"quantitative","scale":{"domain":[-56.26,1792.59],"nice":false}},"y":{"datum":14,"scale":{"domain":[35,0],"nice":false}},"y2":{"datum":28.5}}},
 {"data":{"values":[{}]},"mark":{"type":"text","text":"LTR12","fontWeight":"bold","fontSize":27,"align":"left","baseline":"middle","fill":"#E8262B"},"encoding":{"x":{"datum":1449,"scale":{"domain":[-56.26,1792.59],"nice":false}},"y":{"datum":21,"scale":{"domain":[35,0],"nice":false}}}}
]}
]
}
